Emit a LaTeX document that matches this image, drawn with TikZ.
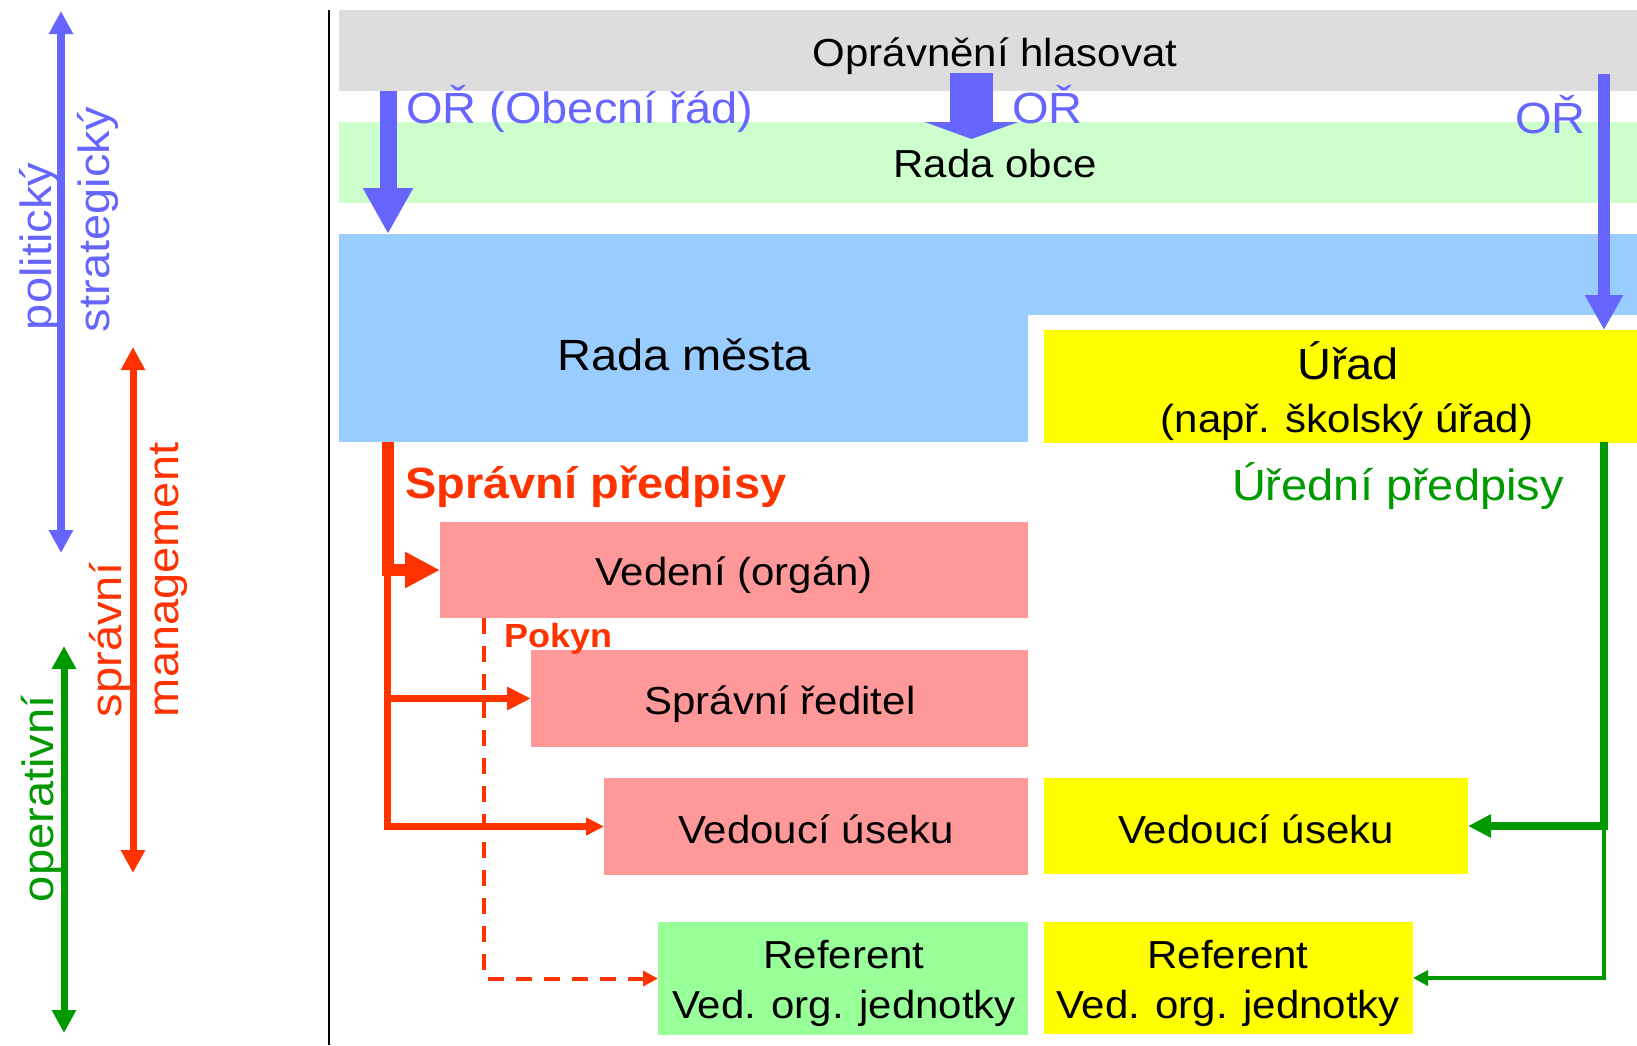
\documentclass[tikz,border=0pt]{standalone}
\usepackage{fontspec}
\setmainfont{Liberation Sans}
\usetikzlibrary{arrows.meta}
\definecolor{cArrB}{HTML}{6666FF}
\definecolor{cRed}{HTML}{FF3300}
\definecolor{cGrn}{HTML}{009900}
\definecolor{cGray}{HTML}{DDDDDD}
\definecolor{cBand}{HTML}{CCFFCC}
\definecolor{cBlue}{HTML}{99CCFF}
\definecolor{cYel}{HTML}{FFFF00}
\definecolor{cPink}{HTML}{FF9999}
\definecolor{cLGrn}{HTML}{99FF99}
\newcommand{\sq}[1]{\scalebox{1}[0.93]{#1}}
\begin{document}
\begin{tikzpicture}[x=1pt,y=-1pt,
  box/.style={rectangle, inner sep=0pt, outer sep=0pt, draw=none},
  tA/.style={inner sep=0pt, outer sep=0pt, anchor=base, font=\fontsize{42}{50}\selectfont},
  tB/.style={inner sep=0pt, outer sep=0pt, anchor=base, font=\fontsize{47}{56}\selectfont},
  tBw/.style={tB, anchor=base west},
  rot/.style={tB, rotate=90, anchor=base west},
  dtip/.style={{Triangle[length=23pt,width=23pt]}-{Triangle[length=23pt,width=23pt]}}
]
\useasboundingbox (0,0) rectangle (1637,1045);
\fill[white] (0,0) rectangle (1637,1045);

% left scale
\draw[line width=2.5pt, black] (329,10) coordinate (vl1) -- (329,1045) coordinate (vl2);
\coordinate (bA) at (61,11); \coordinate (bB) at (61,553);
\draw[cArrB, line width=8pt, dtip] (bA) -- (bB);
\coordinate (rA) at (133,347); \coordinate (rB) at (133,873);
\draw[cRed, line width=7pt, dtip] (rA) -- (rB);
\coordinate (gA) at (64,646); \coordinate (gB) at (64,1033);
\draw[cGrn, line width=7pt, dtip] (gA) -- (gB);

\node[rot, text=cArrB] (tPol) at (51,330) {\sq{politický}};
\node[rot, text=cArrB] (tStr) at (109,332) {\sq{strategický}};
\node[rot, text=cRed] (tSpr) at (121,717) {\sq{správní}};
\node[rot, text=cRed] (tMan) at (178,717) {\sq{management}};
\node[rot, text=cGrn] (tOpe) at (53,902) {\sq{operativní}};

% bands
\node[box, fill=cGray, minimum width=1298pt, minimum height=81pt] (gray) at (988,50.5) {};
\node[box, fill=cBand, minimum width=1298pt, minimum height=81pt] (band) at (988,162.5) {};
\fill[cBlue] (1027,234) rectangle (1637,315);
\node[box, fill=cBlue, minimum width=689pt, minimum height=208pt] (rada) at (683.5,338) {};
\node[box, fill=cYel, minimum width=593pt, minimum height=113pt] (urad) at (1340.5,386.5) {};

\node[tA] (tGray) at (995,66) {\sq{Oprávnění hlasovat}};
\node[tA] (tBand) at (995,177) {\sq{Rada obce}};
\node[tB] (tRada) at (684,370) {\sq{Rada města}};
\node[tB] (tUrad) at (1348,379) {\sq{Úřad}};
\node[tA] (tUrad2) at (1347,432) {\sq{(např. školský úřad)}};

% blue arrows
\coordinate (ba1) at (388,91);
\draw[cArrB, line width=17pt, -{Triangle[length=46pt,width=47pt]}] (ba1) -- (ba1 |- rada.north);
\coordinate (bm1) at (971.5,73); \coordinate (bm2) at (971.5,139);
\draw[cArrB, line width=43pt, -{Triangle[length=17pt,width=93pt]}] (bm1) -- (bm2);
\coordinate (br1) at (1604,74);
\draw[cArrB, line width=12pt, -{Triangle[length=35pt,width=36pt]}] (br1) -- (br1 |- urad.north);

\node[tBw, text=cArrB] (tOR1) at (406,123) {\sq{OŘ (Obecní řád)}};
\node[tBw, text=cArrB] (tOR2) at (1012,123) {\sq{OŘ}};
\node[tBw, text=cArrB] (tOR3) at (1515,133) {\sq{OŘ}};

% lower boxes
\node[box, fill=cPink, minimum width=588pt, minimum height=96pt] (ved) at (734,570) {};
\node[box, fill=cPink, minimum width=497pt, minimum height=97pt] (sred) at (779.5,698.5) {};
\node[box, fill=cPink, minimum width=424pt, minimum height=97pt] (vur) at (816,826.5) {};
\node[box, fill=cLGrn, minimum width=370pt, minimum height=113pt] (refg) at (843,978.5) {};
\node[box, fill=cYel, minimum width=424pt, minimum height=96pt] (vuy) at (1256,826) {};
\node[box, fill=cYel, minimum width=369pt, minimum height=112pt] (refy) at (1228.5,978) {};

\node[tA] (tVed) at (734,585) {\sq{Vedení (orgán)}};
\node[tA] (tSred) at (780,714) {\sq{Správní ředitel}};
\node[tA] (tVur) at (816,843) {\sq{Vedoucí úseku}};
\node[tA] (tRefg1) at (844,968) {\sq{Referent}};
\node[tA] (tRefg2) at (844,1018) {\sq{Ved. org. jednotky}};
\node[tA] (tVuy) at (1256,843) {\sq{Vedoucí úseku}};
\node[tA] (tRefy1) at (1228,968) {\sq{Referent}};
\node[tA] (tRefy2) at (1228,1018) {\sq{Ved. org. jednotky}};

\node[tBw, text=cRed, font=\fontsize{47}{56}\selectfont\bfseries] (tSpp) at (405,498) {\sq{Správní předpisy}};
\node[tBw, text=cGrn] (tUrp) at (1232,500) {\sq{Úřední předpisy}};
\node[tBw, text=cRed, font=\fontsize{36}{42}\selectfont\bfseries] (tPok) at (504,647) {\sq{Pokyn}};

% red connectors
\coordinate (rd1) at (387.5,442);
\draw[cRed, line width=12pt, -{Triangle[length=35pt,width=34pt]}] (rd1) |- (ved.west);
\coordinate (rd2) at (387.5,568);
\draw[cRed, line width=6.5pt, -{Triangle[length=18pt,width=17pt]}] (rd2) |- (vur.west);
\coordinate (rd3) at (387.5,698.5);
\draw[cRed, line width=6.5pt, -{Triangle[length=24pt,width=22pt]}] (rd3) -- (sred.west);
\coordinate (rdd) at (484,618);
\draw[cRed, line width=4pt, dash pattern=on 16pt off 12pt, -{Triangle[length=15pt,width=15pt]}] (rdd) |- (refg.west);

% green connectors
\coordinate (gr1) at (1604,442);
\draw[cGrn, line width=7.5pt, -{Triangle[length=23pt,width=22pt]}] (gr1) |- (vuy.east);
\coordinate (gr2) at (1604,824);
\draw[cGrn, line width=4pt, -{Triangle[length=15pt,width=15pt]}] (gr2) |- (refy.east);
\end{tikzpicture}
\end{document}
